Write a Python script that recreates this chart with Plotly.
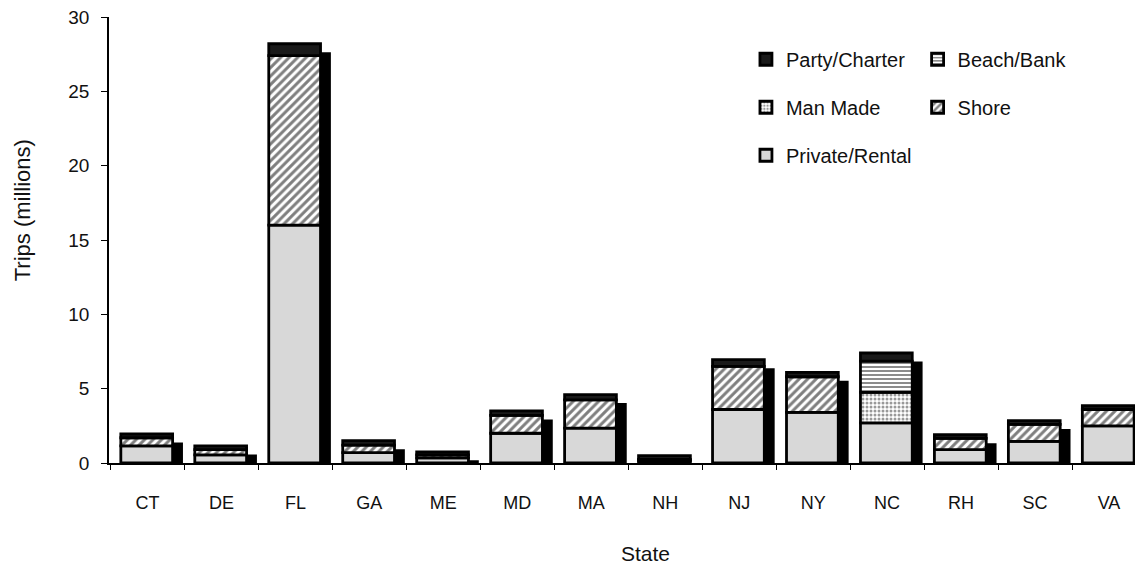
import numpy as np
import plotly.graph_objects as go

states = ["CT", "DE", "FL", "GA", "ME", "MD", "MA", "NH", "NJ", "NY", "NC", "RH", "SC", "VA"]
private_rental = [1.15, 0.55, 16.0, 0.70, 0.35, 2.0, 2.35, 0.15, 3.6, 3.4, 2.7, 0.90, 1.45, 2.5]
shore          = [0.55, 0.35, 11.4, 0.50, 0.20, 1.2, 1.90, 0.10, 2.9, 2.4, 0.0, 0.75, 1.15, 1.1]
man_made       = [0.0, 0.0, 0.0, 0.0, 0.0, 0.0, 0.0, 0.0, 0.0, 0.0, 2.05, 0.0, 0.0, 0.0]
beach_bank     = [0.0, 0.0, 0.0, 0.0, 0.0, 0.0, 0.0, 0.0, 0.0, 0.0, 2.1, 0.0, 0.0, 0.0]
party_charter  = [0.25, 0.25, 0.8, 0.30, 0.20, 0.3, 0.35, 0.25, 0.45, 0.3, 0.55, 0.25, 0.25, 0.25]

series = [
    ("Private/Rental", private_rental, dict(color="#d8d8d8"), "legend", 3),
    ("Shore", shore, dict(color="white", pattern=dict(shape="/", fgcolor="black", bgcolor="white", size=6, solidity=0.5)), "legend2", 2),
    ("Man Made", man_made, dict(color="white", pattern=dict(shape=".", fgcolor="#333", bgcolor="white", size=4, solidity=0.45)), "legend", 2),
    ("Beach/Bank", beach_bank, dict(color="white", pattern=dict(shape="-", fgcolor="black", bgcolor="white", size=4, solidity=0.45)), "legend2", 1),
    ("Party/Charter", party_charter, dict(color="#1a1a1a"), "legend", 1),
]

FONT = "Liberation Sans, Arial, sans-serif"
fig = go.Figure()

totals = np.sum([np.array(s[1]) for s in series], axis=0)

# depth/shadow of each column
fig.add_trace(go.Bar(
    x=states, y=np.maximum(totals - 0.45, 0), base=-0.12,
    width=0.7, offset=-0.22,
    marker=dict(color="black", line=dict(width=0)),
    showlegend=False, hoverinfo="skip"))

base = np.zeros(len(states))
for name, vals, mk, leg, rank in series:
    v = np.array(vals, dtype=float)
    yv = [val if val > 0 else None for val in v]
    fig.add_trace(go.Bar(
        x=states, y=yv, base=base.copy(), name=name,
        width=0.7, offset=-0.36,
        marker=dict(line=dict(color="black", width=2.8), **mk),
        legend=leg, legendgroup=name, legendrank=rank))
    base = base + v

legend_common = dict(font=dict(family=FONT, size=20, color="#111"),
                     bgcolor="rgba(0,0,0,0)", tracegroupgap=19,
                     yanchor="top", xanchor="left", traceorder="grouped")

# page body has an 8px margin: figure spans 8..1143 x 8..566
fig.update_layout(
    width=1135, height=558,
    barmode="overlay",
    plot_bgcolor="white", paper_bgcolor="white",
    margin=dict(l=101, r=0, t=9, b=103),
    font=dict(family=FONT, size=19, color="#111"),
    legend=dict(x=0.616, y=0.949, **legend_common),
    legend2=dict(x=0.782, y=0.949, **legend_common),
    xaxis=dict(
        range=[-0.52, 13.46], showline=True, linecolor="black", linewidth=1.5,
        ticks="outside", tickson="boundaries", ticklen=5, tickcolor="black",
        ticklabelstandoff=23, tickfont=dict(size=18),
        showgrid=False, zeroline=False),
    yaxis=dict(
        range=[0, 30], dtick=5, showline=True, linecolor="black", linewidth=1.5,
        ticks="outside", ticklen=6, tickcolor="black", ticklabelstandoff=8,
        ticklabeloverflow="allow", tickfont=dict(size=19),
        showgrid=False, zeroline=False),
    annotations=[
        dict(text="State", xref="paper", yref="paper", x=0.519, y=-0.202,
             xanchor="center", yanchor="middle", showarrow=False,
             font=dict(family=FONT, size=21, color="#111")),
        dict(text="Trips (millions)", xref="paper", yref="paper", x=-0.084, y=0.567,
             xanchor="center", yanchor="middle", textangle=-90, showarrow=False,
             font=dict(family=FONT, size=22, color="#111")),
    ],
)

fig.write_html("out.html")
